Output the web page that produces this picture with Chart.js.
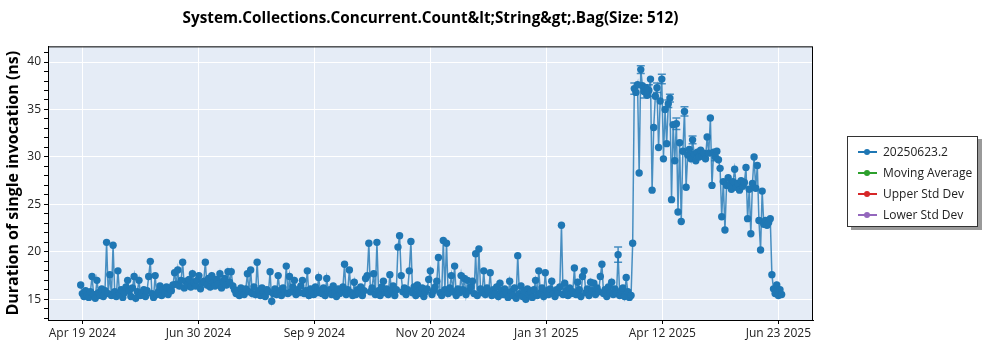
<!DOCTYPE html>
<html lang="en">
<head>
    <meta charset="UTF-8">
    <title>Count&lt;String&gt;.Bag</title>
    <script src="https://cdn.jsdelivr.net/npm/chart.js"></script>
    <style>
        body {
            margin: 0;
            background: #fff;
            font-family: "Open Sans", sans-serif;
        }
        .wrap {
            position: relative;
            width: 1000px;
            height: 350px;
        }
        .legend {
            position: absolute;
            left: 847px;
            top: 136px;
            width: 131px;
            height: 91px;
            border: 1px solid #333;
            background: #fff;
            box-shadow: 4px 3px 0 #9a9a9a;
            box-sizing: border-box;
            padding-top: 4px;
        }
        .legend .row {
            display: flex;
            align-items: center;
            height: 21px;
            font-size: 12px;
            color: #222;
        }
        .legend .sym {
            position: relative;
            width: 19px;
            height: 2px;
            margin: 0 6px 0 10px;
        }
        .legend .sym i {
            position: absolute;
            left: 6px;
            top: -2px;
            width: 6px;
            height: 6px;
            border-radius: 50%;
        }
    </style>
</head>
<body>
<div class="wrap">
    <canvas id="chart" width="1000" height="350"></canvas>
    <div class="legend" id="legend"></div>
</div>
<script>
    const FONT = '"Open Sans", sans-serif';

    // x = days after Apr 19 2024 00:00, one run per day
    const firstDay = -0.5;
    const durations = [
        16.5, 15.6, 15.3, 15.9, 15.4, 15.2, 15.8, 17.4, 15.5, 15.1,
        17.0, 15.7, 15.4, 16.1, 15.3, 15.9, 21.0, 15.6, 17.6, 15.4,
        20.7, 15.8, 15.3, 18.0, 15.6, 16.0, 15.2, 15.7, 16.3, 17.0,
        15.9, 15.3, 16.2, 17.4, 15.1, 15.8, 17.0, 15.4, 15.7, 16.0,
        15.3, 15.9, 17.4, 19.0, 15.6, 15.2, 17.5, 15.5, 15.8, 16.4,
        15.4, 16.0, 15.7, 16.3, 15.5, 16.2, 15.9, 16.5, 17.8, 16.6,
        18.1, 16.4, 17.0, 18.9, 16.2, 16.9, 16.5, 17.1, 16.3, 17.7,
        16.8, 16.4, 17.0, 17.5, 16.1, 16.7, 16.9, 18.9, 16.5, 17.2,
        16.3, 17.5, 16.8, 16.4, 17.1, 16.6, 17.7, 16.2, 16.9, 17.2,
        16.5, 17.9, 16.8, 17.9, 16.4, 16.0, 15.6, 15.9, 15.4, 16.2,
        15.7, 15.5, 16.1, 17.7, 15.8, 18.1, 15.6, 16.3, 15.5, 18.9,
        15.9, 15.4, 16.2, 15.7, 15.3, 16.0, 15.8, 17.9, 14.8, 15.6,
        16.1, 15.5, 17.5, 15.9, 15.4, 16.2, 15.7, 18.5, 15.6, 17.4,
        15.8, 16.3, 17.0, 15.5, 16.0, 15.7, 16.4, 17.0, 15.6, 15.9,
        18.0, 15.4, 16.1, 15.8, 15.5, 16.3, 15.7, 17.3, 15.9, 15.6,
        16.2, 15.4, 17.2, 15.8, 16.0, 15.5, 16.4, 15.7, 15.3, 16.1,
        15.6, 15.9, 16.3, 18.7, 15.5, 16.0, 18.1, 15.7, 15.4, 16.8,
        15.5, 16.0, 15.7, 16.3, 15.4, 15.9, 17.2, 17.5, 20.9, 15.8,
        16.2, 17.7, 15.5, 21.0, 15.9, 15.4, 16.3, 16.9, 15.7, 16.1,
        15.5, 17.6, 15.9, 16.4, 15.4, 16.0, 20.5, 21.7, 17.5, 15.8,
        16.2, 15.5, 16.0, 18.0, 21.1, 15.7, 16.3, 15.4, 16.5, 15.9,
        15.6, 16.2, 15.3, 15.8, 16.1, 17.1, 18.0, 15.5, 15.9, 16.3,
        16.9, 19.4, 15.7, 15.4, 21.2, 16.0, 20.9, 15.6, 16.2, 17.5,
        15.8, 18.5, 15.4, 16.1, 15.7, 17.5, 16.0, 17.2, 15.5, 17.0,
        15.9, 16.3, 16.9, 15.6, 19.8, 15.4, 20.3, 16.1, 15.7, 18.0,
        15.5, 16.2, 15.8, 17.8, 15.4, 16.0, 15.6, 16.3, 15.3, 16.7,
        15.9, 15.5, 16.1, 15.7, 15.2, 16.9, 15.8, 15.4, 16.2, 15.1,
        19.6, 15.6, 16.4, 15.3, 15.9, 15.0, 16.1, 15.5, 15.8, 15.2,
        16.0, 17.0, 15.4, 18.0, 15.7, 16.2, 15.3, 17.8, 15.9, 15.5,
        16.1, 16.9, 15.6, 15.3, 16.0, 15.7, 16.3, 22.8, 15.5, 16.7,
        15.9, 15.4, 16.2, 15.6, 15.8, 18.3, 15.5, 16.8, 16.0, 15.3,
        17.4, 18.0, 15.7, 16.1, 15.4, 16.8, 15.9, 16.7, 15.5, 16.2,
        15.8, 17.4, 18.7, 15.6, 16.0, 15.3, 16.3, 15.7, 16.8, 15.5,
        16.1, 15.6, 19.7, 15.4, 15.9, 16.2, 15.3, 17.3, 15.8, 15.2,
        15.4, 20.9, 37.2, 36.8, 37.6, 28.3, 39.2, 37.5, 36.9, 37.3,
        36.5, 37.0, 38.2, 26.5, 33.1, 36.4, 37.3, 31.0, 35.9, 38.2,
        29.8, 35.0, 31.4, 35.6, 36.2, 25.5, 33.4, 29.6, 33.5, 24.2,
        31.5, 23.2, 30.6, 34.8, 26.8, 30.2, 30.8, 29.8, 31.8, 30.3,
        29.6, 30.5, 30.0, 30.7, 30.1, 30.4, 29.8, 32.1, 30.4, 34.1,
        27.0, 30.5, 30.0, 30.6, 29.7, 28.8, 23.7, 27.4, 22.3, 27.0,
        27.8, 27.1, 26.6, 27.4, 28.7, 26.8, 27.2, 26.5, 27.5, 26.9,
        27.3, 28.9, 23.5, 26.6, 21.9, 27.2, 30.0, 26.7, 29.1, 23.3,
        20.2, 26.4, 22.9, 23.3, 22.8, 23.1, 23.5, 17.6, 16.1, 15.6,
        16.5, 15.4, 16.0, 15.5
    ];

    // error bars: index into durations, half width (ns)
    const errIndex = [332, 342, 346, 348, 351, 356, 359, 363, 364, 368, 373, 378, 392];
    const errSize  = [0.8, 0.6, 0.4, 0.7, 0.6, 0.5, 0.5, 0.4, 0.4, 0.6, 0.5, 0.4, 0.4];

    const xTickDays = [0.5, 72.17, 143.83, 215.5, 287.17, 358.83, 430.5];
    const xTickLabels = ['Apr 19 2024', 'Jun 30 2024', 'Sep 9 2024', 'Nov 20 2024',
                         'Jan 31 2025', 'Apr 12 2025', 'Jun 23 2025'];
    const yMajorTicks = [15, 20, 25, 30, 35, 40];

    const seriesNames = ['20250623.2', 'Moving Average', 'Upper Std Dev', 'Lower Std Dev'];
    const seriesColors = ['#1f77b4', '#2ca02c', '#d62728', '#9467bd'];

    const points = durations.map((v, i) => ({ x: firstDay + i, y: v }));

    const yMinor = [];
    for (let v = 13; v <= 41; v++) yMinor.push(v);

    // plot background + frame
    const plotFrame = {
        id: 'plotFrame',
        beforeDraw(chart) {
            const { ctx, chartArea: a } = chart;
            ctx.save();
            ctx.fillStyle = '#e5ecf6';
            ctx.fillRect(a.left, a.top, a.width, a.height);
            ctx.restore();
        },
        afterDraw(chart) {
            const { ctx, chartArea: a } = chart;
            ctx.save();
            ctx.strokeStyle = '#000';
            ctx.lineWidth = 1;
            ctx.strokeRect(a.left + 0.5, a.top + 0.5, a.width - 1, a.height);
            ctx.restore();
        }
    };

    const errorBars = {
        id: 'errorBars',
        afterDatasetsDraw(chart) {
            const { ctx } = chart;
            const meta = chart.getDatasetMeta(0);
            const ys = chart.scales.y;
            ctx.save();
            ctx.strokeStyle = 'rgba(31,119,180,0.8)';
            ctx.lineWidth = 1.5;
            errIndex.forEach((idx, k) => {
                const p = meta.data[idx];
                const v = durations[idx];
                const top = ys.getPixelForValue(v + errSize[k]);
                const bot = ys.getPixelForValue(v - errSize[k]);
                ctx.beginPath();
                ctx.moveTo(p.x, top); ctx.lineTo(p.x, bot);
                ctx.moveTo(p.x - 4, top); ctx.lineTo(p.x + 4, top);
                ctx.moveTo(p.x - 4, bot); ctx.lineTo(p.x + 4, bot);
                ctx.stroke();
            });
            ctx.restore();
        }
    };

    new Chart(document.getElementById('chart'), {
        type: 'line',
        data: {
            datasets: [{
                label: seriesNames[0],
                data: points,
                borderColor: 'rgba(31,119,180,0.8)',
                borderWidth: 1.5,
                backgroundColor: '#1f77b4',
                pointBackgroundColor: '#1f77b4',
                pointBorderWidth: 0,
                pointRadius: 3.7,
                tension: 0
            }]
        },
        options: {
            responsive: false,
            animation: false,
            layout: { padding: { left: 0, right: 187, top: 0, bottom: 0 } },
            plugins: {
                legend: { display: false },
                tooltip: { enabled: false },
                title: {
                    display: true,
                    fullSize: false,
                    text: 'System.Collections.Concurrent.Count&lt;String&gt;.Bag(Size: 512)',
                    color: '#000',
                    font: { family: FONT, size: 15.3, weight: 'bold', lineHeight: 1.2 },
                    padding: { top: 9, bottom: 19 }
                }
            },
            scales: {
                x: {
                    type: 'linear',
                    min: -20.7,
                    max: 451.9,
                    afterBuildTicks: s => { s.ticks = xTickDays.map(v => ({ value: v })); },
                    afterFit: s => { s.height = 30; },
                    ticks: {
                        autoSkip: false,
                        maxRotation: 0,
                        padding: 2,
                        color: '#222',
                        font: { family: FONT, size: 12 },
                        callback: (v, i) => xTickLabels[i]
                    },
                    grid: { color: '#fff', lineWidth: 1, tickColor: '#000', tickLength: 4 },
                    border: { color: '#000' }
                },
                y: {
                    min: 12.82,
                    max: 41.65,
                    afterBuildTicks: s => { s.ticks = yMinor.map(v => ({ value: v })); },
                    afterFit: s => { s.width = 48; },
                    ticks: {
                        autoSkip: false,
                        padding: 3,
                        color: '#222',
                        font: { family: FONT, size: 12 },
                        callback: v => yMajorTicks.includes(v) ? String(v) : ''
                    },
                    grid: {
                        color: c => (c.tick && yMajorTicks.includes(c.tick.value)) ? '#fff' : 'rgba(0,0,0,0)',
                        lineWidth: 1,
                        tickColor: '#000',
                        tickLength: 4
                    },
                    border: { color: '#000' },
                    title: {
                        display: true,
                        text: 'Duration of single invocation (ns)',
                        color: '#000',
                        font: { family: FONT, size: 16, weight: 'bold' },
                        padding: { top: 4, bottom: 0 }
                    }
                }
            }
        },
        plugins: [plotFrame, errorBars]
    });

    // legend box
    const legend = document.getElementById('legend');
    seriesNames.forEach((name, i) => {
        const row = document.createElement('div');
        row.className = 'row';
        row.innerHTML = '<span class="sym" style="background:' + seriesColors[i] + '">' +
            '<i style="background:' + seriesColors[i] + '"></i></span>' + name;
        legend.appendChild(row);
    });
</script>
</body>
</html>
